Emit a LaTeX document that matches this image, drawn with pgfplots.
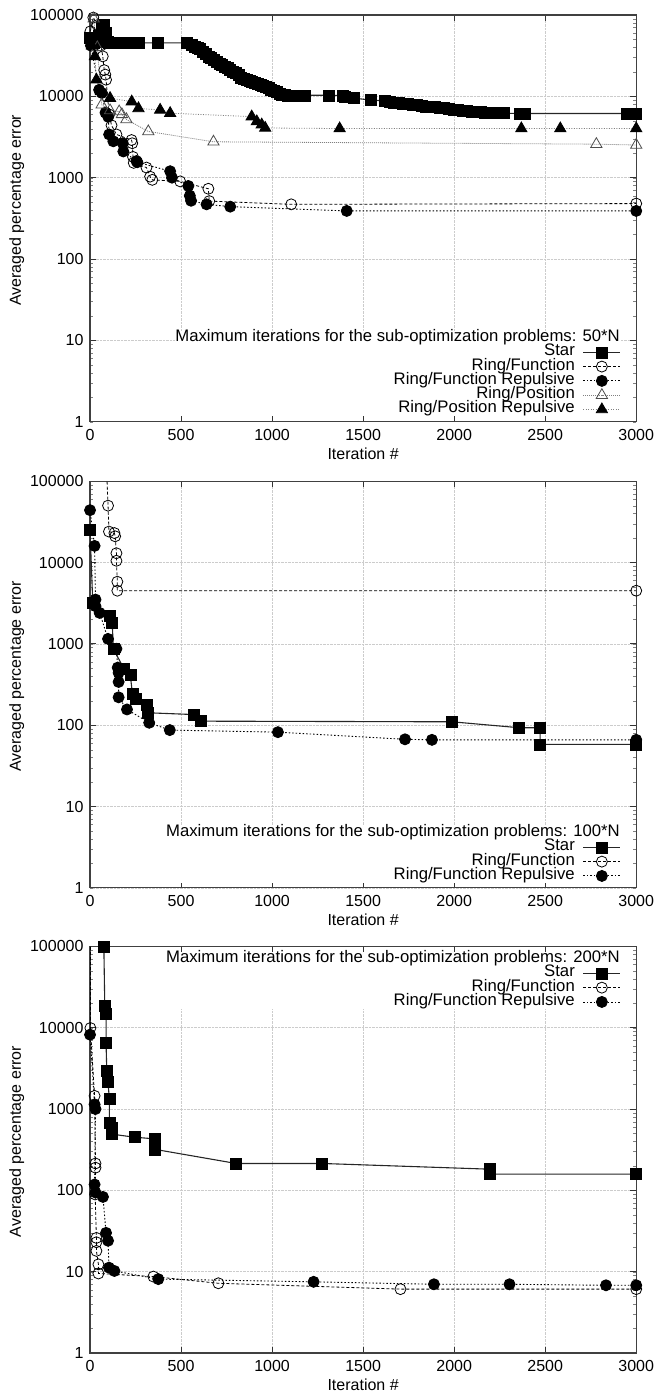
\documentclass[border=0pt]{standalone}
\usepackage{fontspec}
\setmainfont{Liberation Sans}
\usepackage{pgfplots}
\pgfplotsset{compat=1.18}

\pgfplotsset{
  legend image code/.code={\draw[mark repeat=2, mark phase=2, #1] plot coordinates {(0pt,0pt) (18.5pt,0pt) (37pt,0pt)};},
  myaxis/.style={
    scale only axis, width=546pt, height=406.5pt,
    anchor=south west,
    xmin=0, xmax=3000, ymin=1, ymax=100000,
    xtick={0,500,...,3000},
    ytick={1,10,100,1000,10000,100000},
    yticklabels={1,10,100,1000,10000,100000},
    xticklabels={0,500,1000,1500,2000,2500,3000},
    font=\fontsize{16}{16}\selectfont,
    tick align=inside, tick pos=both,
    grid=major, major grid style={densely dotted, gray!40, line width=0.6pt},
    axis line style={line width=1.2pt, black!75},
    major tick style={black!80, line width=0.8pt}, major tick length=6pt, minor tick length=3pt,
    xticklabel style={yshift=-4pt}, yticklabel style={xshift=-3pt},
    xlabel={Iteration \#}, ylabel={Averaged percentage error},
    xlabel style={at={(axis description cs:0.5,-0.078)}, anchor=center},
    ylabel style={at={(axis description cs:-0.134,0.52)}, anchor=center},
    legend cell align=right, legend plot pos=right,
    legend style={draw=none, fill=white, inner sep=0pt, outer sep=0pt, row sep=0.3pt,
      font=\fontsize{16.7}{16.7}\selectfont,
      nodes={inner sep=0pt, text height=10.5pt, text depth=3.5pt},
      /tikz/every odd column/.append style={column sep=8pt}},
  },
  pstar/.style={black!85, line width=1.1pt, mark=square*, mark size=5.5pt, mark options={solid, fill=black, draw=black, line width=0.5pt}},
  prf/.style={black, line width=0.8pt, dash pattern=on 3pt off 2pt, mark=o, mark size=5.5pt, mark options={solid, line width=0.8pt}},
  prfr/.style={black, line width=0.9pt, dash pattern=on 1.5pt off 2pt, mark=*, mark size=5.5pt, mark options={solid}},
  prp/.style={gray, line width=0.8pt, dash pattern=on 1pt off 1pt, mark=triangle, mark size=6.5pt, mark options={solid, draw=black!70, line width=0.8pt}},
  prpr/.style={gray, line width=0.8pt, dash pattern=on 1pt off 1.5pt, mark=triangle*, mark size=6.5pt, mark options={solid, fill=black, draw=black}},
}

\begin{document}
\begin{tikzpicture}
\useasboundingbox (-90pt,-975pt) rectangle (567pt,421.5pt);

% ---------------- Plot 1 ----------------
\begin{semilogyaxis}[myaxis, at={(0pt,0pt)},
  legend style={at={(axis description cs:0.972,0.223)}, anchor=north east}]
\addlegendimage{empty legend}
\addlegendentry{Maximum iterations for the sub-optimization problems: 50*N\hspace*{-45pt}}
\addplot[pstar] coordinates {
(0,52000)(10,47000)(20,46000)(35,47000)(50,55000)(62,72000)(75,76000)(85,60000)(95,47000)(105,46000)
(120,45800)(135,45800)(150,45700)(165,45700)(180,45600)(195,45600)(210,45600)(225,45500)(240,45500)
(255,45500)(270,45500)(370,45500)(530,45500)(560,43000)(575,41000)(590,39500)(605,38000)(620,35500)
(635,33000)(650,31000)(665,29500)(680,28000)(695,26800)(710,25500)(725,24300)(740,23200)(755,22200)
(770,21200)(785,20300)(800,19300)(815,18400)(830,17000)(845,16400)(860,15900)(875,15400)(890,15000)
(905,14600)(920,14200)(935,13800)(950,13400)(965,13000)(980,12600)(995,12200)(1010,11800)(1025,11300)
(1040,10900)(1055,10600)(1070,10400)(1085,10300)(1100,10300)(1120,10300)(1140,10300)(1160,10300)
(1180,10300)(1310,10300)(1390,10200)(1400,9800)(1450,9500)(1540,9000)(1620,8800)(1645,8600)(1670,8400)
(1695,8250)(1720,8100)(1745,8000)(1770,7900)(1795,7800)(1820,7650)(1845,7550)(1870,7450)(1895,7350)
(1920,7250)(1945,7150)(1970,7050)(1995,6900)(2020,6750)(2045,6650)(2070,6580)(2095,6500)(2120,6430)
(2145,6380)(2170,6330)(2195,6290)(2220,6250)(2245,6220)(2270,6200)(2360,6150)(2385,6150)(2950,6150)
(2975,6150)(3000,6150)};
\addlegendentry{Star}
\addplot[prf] coordinates {
(2,63000)(18,93000)(40,75000)(60,42000)(70,31000)(78,21000)(84,18500)(88,16000)(105,6000)(118,4400)
(145,3400)(228,2900)(232,2650)(236,1800)(240,1520)(310,1330)(330,1030)(342,940)(495,900)(650,730)
(655,515)(1105,470)(3000,480)};
\addlegendentry{Ring/Function}
\addplot[prfr] coordinates {
(5,42000)(50,12000)(65,11000)(85,6300)(100,5600)(105,3400)(128,2800)(180,2650)(183,2100)(255,1600)
(260,1550)(440,1200)(450,1000)(540,790)(548,600)(555,520)(640,470)(770,440)(1410,390)(3000,390)};
\addlegendentry{Ring/Function Repulsive}
\addplot[prp] coordinates {
(20,90000)(40,40000)(64,7900)(110,6700)(160,6500)(175,6000)(200,5200)(320,3700)(678,2760)(2781,2580)(3000,2520)};
\addlegendentry{Ring/Position}
\addplot[prpr] coordinates {
(10,42000)(27,31000)(35,16000)(60,11500)(110,9500)(229,8600)(266,7100)(385,6800)(440,6200)(888,5630)
(916,4900)(943,4480)(962,4080)(1371,4020)(2369,4020)(2583,4020)(3000,4020)};
\addlegendentry{Ring/Position Repulsive}
\end{semilogyaxis}

% ---------------- Plot 2 ----------------
\begin{semilogyaxis}[myaxis, at={(0pt,-466pt)},
  legend style={at={(axis description cs:0.972,0.152)}, anchor=north east}]
\addlegendimage{empty legend}
\addlegendentry{Maximum iterations for the sub-optimization problems: 100*N\hspace*{-45pt}}
\addplot[pstar] coordinates {
(0,25000)(15,3200)(110,2200)(122,1820)(128,870)(187,490)(221,420)(233,240)(249,210)(311,180)(318,142)
(571,135)(606,112)(1988,110)(2357,93)(2472,93)(2472,58)(3000,58)};
\addlegendentry{Star}
\addplot[prf] coordinates {
(88,200000)(99,50000)(104,24000)(134,23000)(138,21000)(145,13000)(145,10500)(150,5800)(150,4500)(3000,4500)};
\addlegendentry{Ring/Function}
\addplot[prfr] coordinates {
(0,44000)(25,16000)(30,3500)(30,2900)(53,2400)(99,1150)(145,870)(152,510)(157,440)(157,340)(157,220)
(203,156)(325,107)(438,87)(1032,82)(1730,67)(1878,66)(3000,66)};
\addlegendentry{Ring/Function Repulsive}
\end{semilogyaxis}

% ---------------- Plot 3 ----------------
\begin{semilogyaxis}[myaxis, at={(0pt,-931pt)},
  legend style={at={(axis description cs:0.972,0.986)}, anchor=north east}]
\addlegendimage{empty legend}
\addlegendentry{Maximum iterations for the sub-optimization problems: 200*N\hspace*{-45pt}}
\addplot[pstar] coordinates {
(76,97700)(81,18700)(88,14900)(88,6500)(92,2930)(99,2150)(106,1320)(106,680)(117,590)(122,490)
(244,450)(353,430)(353,320)(802,214)(1274,214)(2196,182)(2196,158)(3000,158)};
\addlegendentry{Star}
\addplot[prf] coordinates {
(2,150000)(2,9900)(25,1450)(30,214)(30,190)(28,89)(35,26)(35,23)(35,18)(46,12.3)(46,9.5)(348,8.7)
(705,7.2)(1705,6.1)(3000,6.1)};
\addlegendentry{Ring/Function}
\addplot[prfr] coordinates {
(0,150000)(0,8200)(25,1140)(30,1000)(25,118)(30,94)(71,83)(88,30)(99,24)(104,11.2)(134,10.2)(375,8.1)
(1228,7.5)(1889,7.0)(2304,7.0)(2834,6.8)(3000,6.8)};
\addlegendentry{Ring/Function Repulsive}
\end{semilogyaxis}
\end{tikzpicture}
\end{document}
